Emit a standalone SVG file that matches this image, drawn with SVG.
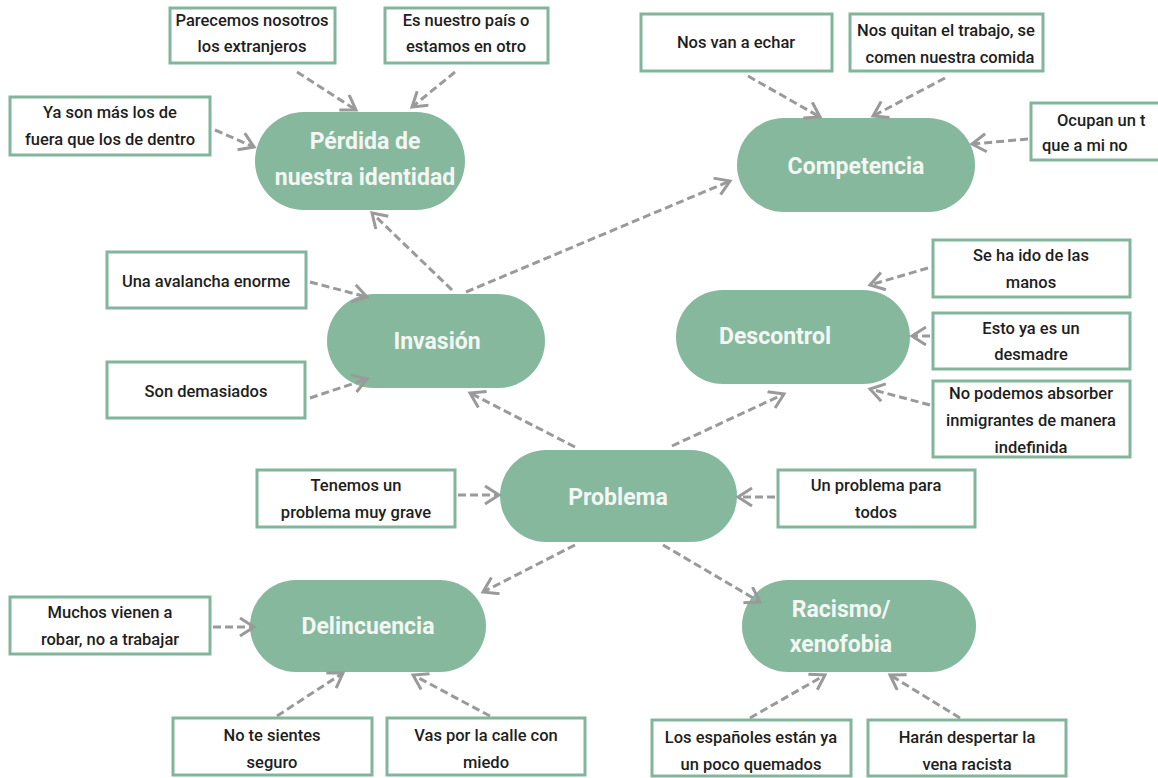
<svg xmlns="http://www.w3.org/2000/svg" width="1158" height="778" viewBox="0 0 1158 778">
<defs>
<style>
.pill{fill:#86b89e}
.pt{font-family:Roboto,"Liberation Sans",sans-serif;font-weight:bold;font-size:23px;fill:#f3f7f3;text-anchor:middle}
.box{fill:#fff;stroke:#82b59c;stroke-width:3}
.bt{font-family:Roboto,"Liberation Sans",sans-serif;font-weight:500;font-size:16.5px;fill:#1e1e1e;text-anchor:middle}
.c{fill:none;stroke:#9a9a9a;stroke-width:3;stroke-dasharray:8 4;marker-end:url(#ah)}
</style>
<marker id="ah" markerUnits="userSpaceOnUse" markerWidth="22" markerHeight="22" refX="16" refY="10" orient="auto">
<path d="M2,1 L16,10 L2,19" fill="none" stroke="#9a9a9a" stroke-width="3"/>
</marker>
</defs>
<rect width="1158" height="778" fill="#fff"/>

<g id="perdida"><rect class="pill" x="255" y="112" width="210" height="98" rx="49"/><text class="pt" x="365" y="149">Pérdida de</text><text class="pt" x="365" y="185">nuestra identidad</text></g>
<g id="competencia"><rect class="pill" x="737" y="118" width="238" height="94" rx="47"/><text class="pt" x="856" y="174">Competencia</text></g>
<g id="invasion"><rect class="pill" x="327" y="294" width="218" height="94" rx="47"/><text class="pt" x="437" y="349">Invasión</text></g>
<g id="descontrol"><rect class="pill" x="676" y="290" width="234" height="94" rx="47"/><text class="pt" x="775" y="344">Descontrol</text></g>
<g id="problema"><rect class="pill" x="500" y="450" width="237" height="92" rx="46"/><text class="pt" x="618" y="505">Problema</text></g>
<g id="delincuencia"><rect class="pill" x="250" y="580" width="236" height="92" rx="46"/><text class="pt" x="368" y="634">Delincuencia</text></g>
<g id="racismo"><rect class="pill" x="742" y="580" width="234" height="92" rx="46"/><text class="pt" x="841" y="617">Racismo/</text><text class="pt" x="841" y="652">xenofobia</text></g>

<g id="b-parecemos"><rect class="box" x="170" y="8" width="165" height="55"/><text class="bt" x="252" y="26">Parecemos nosotros</text><text class="bt" x="252" y="52">los extranjeros</text></g>
<g id="b-pais"><rect class="box" x="385" y="8" width="163" height="55"/><text class="bt" x="466" y="26">Es nuestro país o</text><text class="bt" x="466" y="52">estamos en otro</text></g>
<g id="b-yason"><rect class="box" x="10" y="97" width="200" height="58"/><text class="bt" x="110" y="118">Ya son más los de</text><text class="bt" x="110" y="145">fuera que los de dentro</text></g>
<g id="b-echar"><rect class="box" x="641" y="14" width="191" height="57"/><text class="bt" x="736" y="48">Nos van a echar</text></g>
<g id="b-quitan"><rect class="box" x="850" y="14" width="193" height="57"/><text class="bt" x="946" y="36">Nos quitan el trabajo, se</text><text class="bt" x="950" y="63">comen nuestra comida</text></g>
<g id="b-ocupan"><rect class="box" x="1031" y="103" width="140" height="57"/><text class="bt" x="1057" y="126" style="text-anchor:start">Ocupan un t</text><text class="bt" x="1042" y="151" style="text-anchor:start">que a mi no</text></g>
<g id="b-seha"><rect class="box" x="933" y="240" width="197" height="57"/><text class="bt" x="1031" y="261">Se ha ido de las</text><text class="bt" x="1031" y="288">manos</text></g>
<g id="b-esto"><rect class="box" x="933" y="313" width="197" height="56"/><text class="bt" x="1031" y="334">Esto ya es un</text><text class="bt" x="1031" y="360">desmadre</text></g>
<g id="b-nopodemos"><rect class="box" x="933" y="381" width="197" height="76"/><text class="bt" x="1031" y="399">No podemos absorber</text><text class="bt" x="1031" y="426">inmigrantes de manera</text><text class="bt" x="1031" y="453">indefinida</text></g>
<g id="b-avalancha"><rect class="box" x="107" y="252" width="199" height="56"/><text class="bt" x="206" y="287">Una avalancha enorme</text></g>
<g id="b-demasiados"><rect class="box" x="107" y="362" width="198" height="56"/><text class="bt" x="206" y="397">Son demasiados</text></g>
<g id="b-tenemos"><rect class="box" x="257" y="470" width="198" height="57"/><text class="bt" x="356" y="491">Tenemos un</text><text class="bt" x="356" y="518">problema muy grave</text></g>
<g id="b-unproblema"><rect class="box" x="778" y="470" width="197" height="57"/><text class="bt" x="876" y="491">Un problema para</text><text class="bt" x="876" y="518">todos</text></g>
<g id="b-muchos"><rect class="box" x="10" y="597" width="200" height="57"/><text class="bt" x="110" y="618">Muchos vienen a</text><text class="bt" x="110" y="645">robar, no a trabajar</text></g>
<g id="b-seguro"><rect class="box" x="173" y="718" width="199" height="57"/><text class="bt" x="272" y="741">No te sientes</text><text class="bt" x="272" y="768">seguro</text></g>
<g id="b-miedo"><rect class="box" x="387" y="718" width="198" height="57"/><text class="bt" x="486" y="741">Vas por la calle con</text><text class="bt" x="486" y="768">miedo</text></g>
<g id="b-espanoles"><rect class="box" x="652" y="720" width="199" height="56"/><text class="bt" x="751" y="743">Los españoles están ya</text><text class="bt" x="751" y="770">un poco quemados</text></g>
<g id="b-haran"><rect class="box" x="868" y="720" width="198" height="56"/><text class="bt" x="967" y="743">Harán despertar la</text><text class="bt" x="967" y="770">vena racista</text></g>

<g id="connectors">
<line class="c" x1="297" y1="72" x2="356" y2="110"/>
<line class="c" x1="455" y1="72" x2="412" y2="107"/>
<line class="c" x1="215" y1="130" x2="254" y2="147"/>
<line class="c" x1="452" y1="290" x2="372" y2="213"/>
<line class="c" x1="466" y1="292" x2="730" y2="181"/>
<line class="c" x1="748" y1="76" x2="820" y2="117"/>
<line class="c" x1="945" y1="78" x2="873" y2="116"/>
<line class="c" x1="1028" y1="139" x2="972" y2="144"/>
<line class="c" x1="310" y1="282" x2="367" y2="297"/>
<line class="c" x1="310" y1="398" x2="367" y2="379"/>
<line class="c" x1="575" y1="447" x2="470" y2="393"/>
<line class="c" x1="672" y1="446" x2="784" y2="394"/>
<line class="c" x1="928" y1="268" x2="870" y2="285"/>
<line class="c" x1="930" y1="336" x2="912" y2="336"/>
<line class="c" x1="930" y1="405" x2="870" y2="389"/>
<line class="c" x1="458" y1="495" x2="499" y2="495"/>
<line class="c" x1="775" y1="497" x2="738" y2="497"/>
<line class="c" x1="575" y1="545" x2="483" y2="592"/>
<line class="c" x1="663" y1="545" x2="760" y2="602"/>
<line class="c" x1="213" y1="627" x2="254" y2="627"/>
<line class="c" x1="277" y1="716" x2="343" y2="673"/>
<line class="c" x1="490" y1="716" x2="413" y2="675"/>
<line class="c" x1="750" y1="718" x2="825" y2="675"/>
<line class="c" x1="960" y1="718" x2="890" y2="675"/>
</g>
</svg>
